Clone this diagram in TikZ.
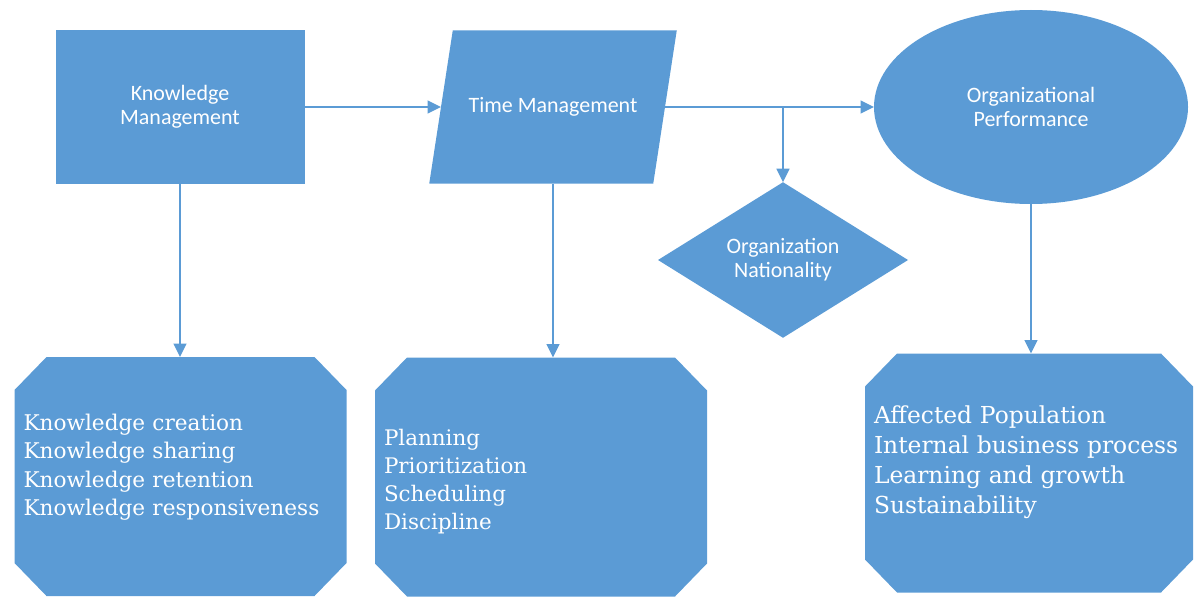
\documentclass[tikz,border=0pt]{standalone}
\usepackage{fontspec}
\setmainfont{Carlito}
\newfontfamily\listfont{DejaVu Serif}
\usetikzlibrary{shapes.geometric,arrows.meta,backgrounds}
\definecolor{officeblue}{RGB}{91,155,213}
\newlength{\listwidth}
\setlength{\listwidth}{6.64cm}
\newcommand{\chamferfill}[1]{\fill[officeblue] ([xshift=0.64cm]#1.north west) -- ([xshift=-0.64cm]#1.north east)
    -- ([yshift=-0.66cm]#1.north east) -- ([yshift=0.66cm]#1.south east) -- ([xshift=-0.64cm]#1.south east)
    -- ([xshift=0.64cm]#1.south west) -- ([yshift=0.66cm]#1.south west) -- ([yshift=-0.66cm]#1.north west) -- cycle;}
\newcommand{\slantfill}[1]{\fill[officeblue] ([xshift=-0.235cm]#1.south west) -- ([xshift=0.235cm]#1.north west)
    -- ([xshift=0.235cm]#1.north east) -- ([xshift=-0.235cm]#1.south east) -- cycle;}

\begin{document}
\begin{tikzpicture}[
    topshape/.style={fill=officeblue, text=white, align=center, inner sep=0pt, outer sep=0pt,
        font=\fontsize{12.5}{13.6}\selectfont},
    listbox/.style={rectangle, minimum width=\listwidth, minimum height=4.78cm, text width=\listwidth-0.36cm,
        text=white, inner xsep=0.18cm, inner ysep=0pt, outer sep=0pt, align=left, text height=0.5cm,
        font=\listfont\fontsize{12.3}{16.3}\selectfont},
    link/.style={draw=officeblue, line width=0.9pt, -{Triangle[length=0.27cm,width=0.26cm]}}
]
    \useasboundingbox (0,0) rectangle (23.88,11.94);

    \node[topshape, minimum width=4.98cm, minimum height=3.06cm] (km) at (3.6,9.8) {Knowledge\\Management};
    \node[topshape, fill=none, minimum width=4.48cm, minimum height=3.06cm] (tm) at (11.06,9.8) {Time Management};
    \node[topshape, ellipse, minimum width=6.28cm, minimum height=3.88cm] (op) at (20.62,9.8) {Organizational\\Performance};
    \node[topshape, diamond, minimum width=5cm, minimum height=3.04cm] (on) at (15.66,6.74) {Organization\\Nationality};

    \node[listbox, text depth=2.36cm] (kbox) at (3.61,2.41) {Knowledge creation\\Knowledge sharing\\Knowledge retention\\Knowledge responsiveness};
    \node[listbox, text depth=1.76cm, font=\listfont\fontsize{12.2}{15.9}\selectfont] (tbox) at (10.82,2.40) {Planning\\Prioritization\\Scheduling\\Discipline};
    \node[listbox, text depth=2.48cm, minimum width=6.56cm, text width=6.2cm, font=\listfont\fontsize{13.3}{17}\selectfont] (pbox) at (20.58,2.48) {Affected Population\\Internal business process\\Learning and growth\\Sustainability};

    \begin{pgfonlayer}{background}
        \slantfill{tm}
        \chamferfill{kbox}
        \chamferfill{tbox}
        \chamferfill{pbox}
    \end{pgfonlayer}

    \draw[link] (km) -- (tm);
    \draw[link] (tm) -- (op);
    \draw[link] (on.north |- tm.east) -- (on.north);
    \draw[link] (km.south) -- (km.south |- kbox.north);
    \draw[link] (tm.south) -- (tm.south |- tbox.north);
    \draw[link] (op.south) -- (op.south |- pbox.north);
\end{tikzpicture}
\end{document}
